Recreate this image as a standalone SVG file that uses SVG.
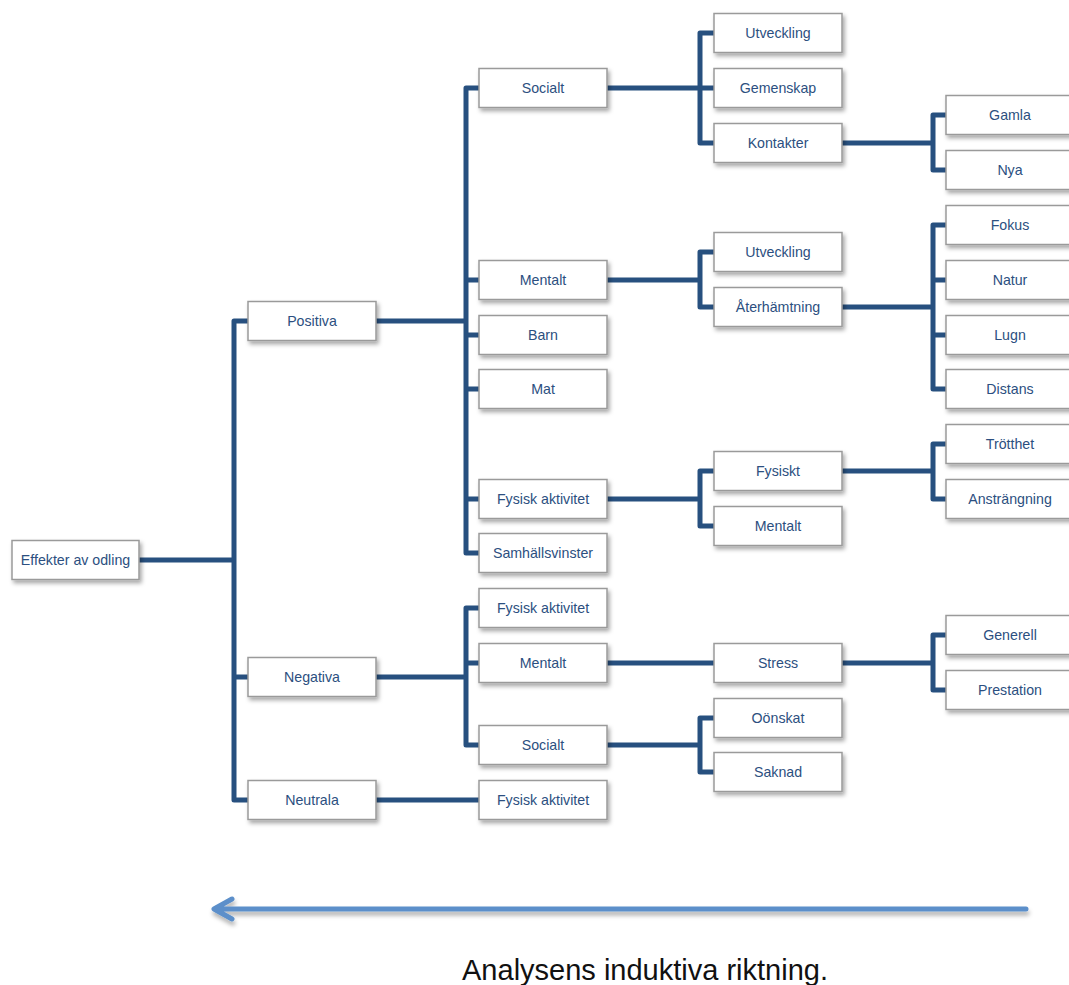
<svg xmlns="http://www.w3.org/2000/svg" width="1069" height="985" viewBox="0 0 1069 985">
<defs>
<filter id="sh" x="-10%" y="-20%" width="130%" height="160%">
<feDropShadow dx="2" dy="3" stdDeviation="2" flood-color="#000" flood-opacity="0.35"/>
</filter>
<filter id="ash" x="-5%" y="-100%" width="110%" height="400%">
<feDropShadow dx="1" dy="4" stdDeviation="2" flood-color="#000" flood-opacity="0.3"/>
</filter>
</defs>
<style>
.b{fill:#fff;stroke:#9a9a9a;stroke-width:1.5;filter:url(#sh)}
.t{font-family:"Liberation Sans",Arial,sans-serif;font-size:14.2px;fill:#2c4f80;text-anchor:middle}
.c{fill:none;stroke:#27507f;stroke-width:5;stroke-linejoin:round}
</style>
<rect width="1069" height="985" fill="#fff"/>
<g id="connectors">
<path class="c" d="M139,560 H234 M248,321 H234 V800 H248 M234,677 H248"/>
<path class="c" d="M376,321 H466 M479,88 H466 V553 H479 M466,280 H479 M466,335 H479 M466,389 H479 M466,499 H479"/>
<path class="c" d="M376,677 H466 M479,608 H466 V745 H479 M466,663 H479"/>
<path class="c" d="M376,800 H479"/>
<path class="c" d="M607,88 H700 M714,33 H700 V143 H714 M700,88 H714"/>
<path class="c" d="M842,143 H933 M946,115 H933 V170 H946"/>
<path class="c" d="M607,280 H700 M714,252 H700 V307 H714"/>
<path class="c" d="M842,307 H933 M946,225 H933 V389 H946 M933,280 H946 M933,335 H946"/>
<path class="c" d="M607,499 H700 M714,471 H700 V526 H714"/>
<path class="c" d="M842,471 H933 M946,444 H933 V499 H946"/>
<path class="c" d="M607,663 H714"/>
<path class="c" d="M842,663 H933 M946,635 H933 V690 H946"/>
<path class="c" d="M607,745 H700 M714,718 H700 V772 H714"/>
</g>
<g id="root"><rect class="b" x="12" y="540.5" width="127" height="39"/><text class="t" x="75.5" y="565">Effekter av odling</text></g>
<g id="positiva"><rect class="b" x="248" y="301.5" width="128" height="39"/><text class="t" x="312" y="326">Positiva</text></g>
<g id="negativa"><rect class="b" x="248" y="657.5" width="128" height="39"/><text class="t" x="312" y="682">Negativa</text></g>
<g id="neutrala"><rect class="b" x="248" y="780.5" width="128" height="39"/><text class="t" x="312" y="805">Neutrala</text></g>
<g id="p-socialt"><rect class="b" x="479" y="68.5" width="128" height="39"/><text class="t" x="543" y="93">Socialt</text></g>
<g id="p-mentalt"><rect class="b" x="479" y="260.5" width="128" height="39"/><text class="t" x="543" y="285">Mentalt</text></g>
<g id="p-barn"><rect class="b" x="479" y="315.5" width="128" height="39"/><text class="t" x="543" y="340">Barn</text></g>
<g id="p-mat"><rect class="b" x="479" y="369.5" width="128" height="39"/><text class="t" x="543" y="394">Mat</text></g>
<g id="p-fysisk"><rect class="b" x="479" y="479.5" width="128" height="39"/><text class="t" x="543" y="504">Fysisk aktivitet</text></g>
<g id="p-samhall"><rect class="b" x="479" y="533.5" width="128" height="39"/><text class="t" x="543" y="558">Samhällsvinster</text></g>
<g id="n-fysisk"><rect class="b" x="479" y="588.5" width="128" height="39"/><text class="t" x="543" y="613">Fysisk aktivitet</text></g>
<g id="n-mentalt"><rect class="b" x="479" y="643.5" width="128" height="39"/><text class="t" x="543" y="668">Mentalt</text></g>
<g id="n-socialt"><rect class="b" x="479" y="725.5" width="128" height="39"/><text class="t" x="543" y="750">Socialt</text></g>
<g id="ne-fysisk"><rect class="b" x="479" y="780.5" width="128" height="39"/><text class="t" x="543" y="805">Fysisk aktivitet</text></g>
<g id="s-utveckling"><rect class="b" x="714" y="13.5" width="128" height="39"/><text class="t" x="778" y="38">Utveckling</text></g>
<g id="s-gemenskap"><rect class="b" x="714" y="68.5" width="128" height="39"/><text class="t" x="778" y="93">Gemenskap</text></g>
<g id="s-kontakter"><rect class="b" x="714" y="123.5" width="128" height="39"/><text class="t" x="778" y="148">Kontakter</text></g>
<g id="m-utveckling"><rect class="b" x="714" y="232.5" width="128" height="39"/><text class="t" x="778" y="257">Utveckling</text></g>
<g id="m-aterhamtning"><rect class="b" x="714" y="287.5" width="128" height="39"/><text class="t" x="778" y="312">Återhämtning</text></g>
<g id="f-fysiskt"><rect class="b" x="714" y="451.5" width="128" height="39"/><text class="t" x="778" y="476">Fysiskt</text></g>
<g id="f-mentalt"><rect class="b" x="714" y="506.5" width="128" height="39"/><text class="t" x="778" y="531">Mentalt</text></g>
<g id="stress"><rect class="b" x="714" y="643.5" width="128" height="39"/><text class="t" x="778" y="668">Stress</text></g>
<g id="oonskat"><rect class="b" x="714" y="698.5" width="128" height="39"/><text class="t" x="778" y="723">Oönskat</text></g>
<g id="saknad"><rect class="b" x="714" y="752.5" width="128" height="39"/><text class="t" x="778" y="777">Saknad</text></g>
<g id="gamla"><rect class="b" x="946" y="95.5" width="129" height="39"/><text class="t" x="1010" y="120">Gamla</text></g>
<g id="nya"><rect class="b" x="946" y="150.5" width="129" height="39"/><text class="t" x="1010" y="175">Nya</text></g>
<g id="fokus"><rect class="b" x="946" y="205.5" width="129" height="39"/><text class="t" x="1010" y="230">Fokus</text></g>
<g id="natur"><rect class="b" x="946" y="260.5" width="129" height="39"/><text class="t" x="1010" y="285">Natur</text></g>
<g id="lugn"><rect class="b" x="946" y="315.5" width="129" height="39"/><text class="t" x="1010" y="340">Lugn</text></g>
<g id="distans"><rect class="b" x="946" y="369.5" width="129" height="39"/><text class="t" x="1010" y="394">Distans</text></g>
<g id="trotthet"><rect class="b" x="946" y="424.5" width="129" height="39"/><text class="t" x="1010" y="449">Trötthet</text></g>
<g id="anstrangning"><rect class="b" x="946" y="479.5" width="129" height="39"/><text class="t" x="1010" y="504">Ansträngning</text></g>
<g id="generell"><rect class="b" x="946" y="615.5" width="129" height="39"/><text class="t" x="1010" y="640">Generell</text></g>
<g id="prestation"><rect class="b" x="946" y="670.5" width="129" height="39"/><text class="t" x="1010" y="695">Prestation</text></g>
<g id="arrow" filter="url(#ash)">
<path d="M1026,909 H215 M232,899 L214,909 L232,919" fill="none" stroke="#5b8fca" stroke-width="5" stroke-linecap="round" stroke-linejoin="round"/>
</g>
<text x="645" y="980" font-family="'Liberation Sans',Arial,sans-serif" font-size="29" fill="#111" text-anchor="middle">Analysens induktiva riktning.</text>
</svg>
